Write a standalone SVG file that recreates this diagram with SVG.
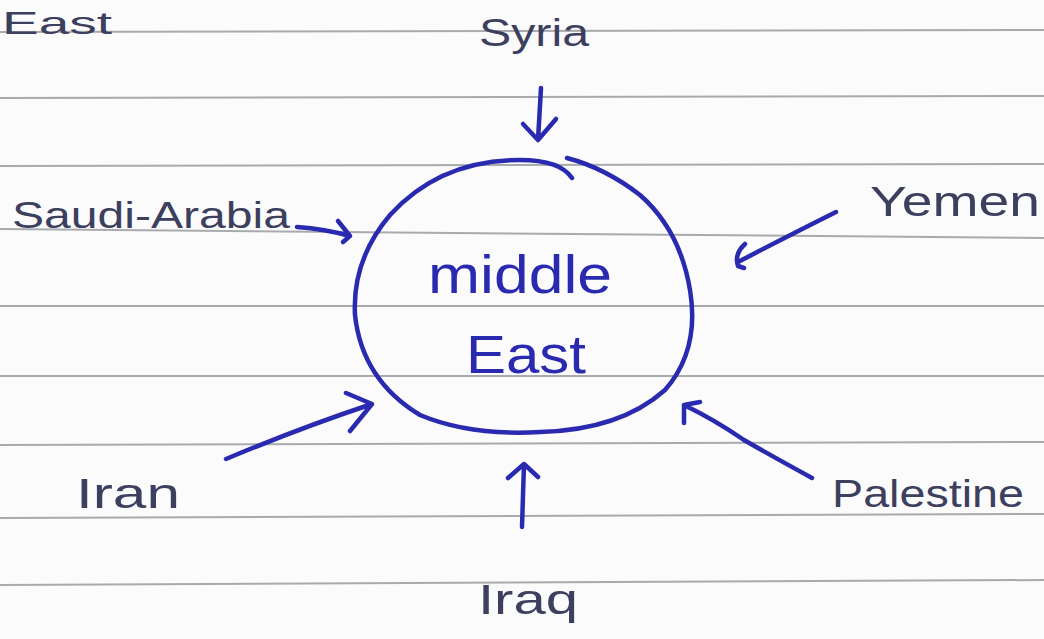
<svg xmlns="http://www.w3.org/2000/svg" width="1044" height="639" viewBox="0 0 1044 639">
<style>
.rule{stroke:#a9aaae;stroke-width:2;fill:none}
.ink{stroke:#2a2ab0;stroke-width:4.5;fill:none;stroke-linecap:round;stroke-linejoin:round}
.lbl{font-family:"Liberation Sans","DejaVu Sans",sans-serif;fill:#3d3f5e;font-weight:normal}
.big{font-family:"Liberation Sans","DejaVu Sans",sans-serif;fill:#2a2ab0}
</style>
<rect width="1044" height="639" fill="#fbfbfc"/>
<g id="paper-lines">
<path class="rule" d="M0 32 L1044 30"/>
<path class="rule" d="M0 98 L1044 96"/>
<path class="rule" d="M0 166 L1044 164"/>
<path class="rule" d="M0 229 L1044 238"/>
<path class="rule" d="M0 306 L1044 306"/>
<path class="rule" d="M0 376 L1044 376"/>
<path class="rule" d="M0 445 L1044 442"/>
<path class="rule" d="M0 518 L1044 514"/>
<path class="rule" d="M0 585 L1044 580"/>
</g>
<g id="connectors">
<path class="ink" d="M541 88 L538 140 M523 124 L538 140 L556 119"/>
<path class="ink" d="M297 227 Q325 229 350 236 M338 221 L350 236 L343 242"/>
<path class="ink" d="M836 212 Q790 235 738 262 M745 244 Q734 254 738 266 L744 268"/>
<path class="ink" d="M226 459 Q300 428 372 404 M346 393 L372 404 L350 431"/>
<path class="ink" d="M812 478 Q770 455 744 440 Q715 420 684 405 M684 423 L684 405 L700 402"/>
<path class="ink" d="M522 527 L524 464 M508 478 L524 464 L538 477"/>
</g>
<g id="node-top-left">
<text class="lbl" x="2" y="34" font-size="32" textLength="110" lengthAdjust="spacingAndGlyphs">East</text>
</g>
<g id="node-syria">
<text class="lbl" x="479" y="46" font-size="38" textLength="110" lengthAdjust="spacingAndGlyphs">Syria</text>
</g>
<g id="node-saudi">
<text class="lbl" x="12" y="228" font-size="36" textLength="278" lengthAdjust="spacingAndGlyphs">Saudi-Arabia</text>
</g>
<g id="node-yemen">
<text class="lbl" x="870" y="216" font-size="42" textLength="170" lengthAdjust="spacingAndGlyphs">Yemen</text>
</g>
<g id="node-iran">
<text class="lbl" x="76" y="508" font-size="42" textLength="104" lengthAdjust="spacingAndGlyphs">Iran</text>
</g>
<g id="node-palestine">
<text class="lbl" x="832" y="507" font-size="38" textLength="192" lengthAdjust="spacingAndGlyphs">Palestine</text>
</g>
<g id="node-iraq">
<text class="lbl" x="478" y="614" font-size="42" textLength="100" lengthAdjust="spacingAndGlyphs">Iraq</text>
</g>
<g id="node-middle-east">
<path class="ink" d="M572 178 Q560 160 520 160 Q440 160 390 215 Q352 260 355 315 Q362 380 420 415 Q470 436 540 432 Q620 430 665 390 Q700 350 690 290 Q680 230 640 195 Q605 168 567 158"/>
<text class="big" x="428" y="293" font-size="54" textLength="184" lengthAdjust="spacingAndGlyphs">middle</text>
<text class="big" x="466" y="373" font-size="54" textLength="120" lengthAdjust="spacingAndGlyphs">East</text>
</g>
</svg>
